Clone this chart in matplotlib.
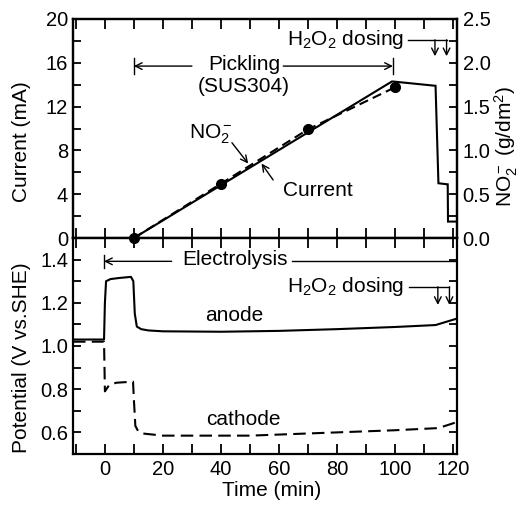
import matplotlib
matplotlib.use('Agg')
import matplotlib.pyplot as plt
from matplotlib.ticker import MultipleLocator, FormatStrFormatter

plt.rcParams['font.family'] = ['Liberation Sans', 'DejaVu Sans']
plt.rcParams['mathtext.fontset'] = 'custom'
plt.rcParams['mathtext.rm'] = 'Liberation Sans'
plt.rcParams['mathtext.it'] = 'Liberation Sans:italic'
plt.rcParams['mathtext.bf'] = 'Liberation Sans:bold'

# ---------------- data ----------------
current_time = [10, 99, 114, 115, 118.2, 118.3, 121.4]
current_mA = [0, 14.3, 13.9, 5.0, 4.9, 1.5, 1.5]

no2_time = [10, 40, 70, 100]
no2_conc = [0.0, 0.62, 1.24, 1.72]

anode_time = [-11, -0.3, 0, 0.4, 2, 5, 9, 9.8, 10.3, 11, 12.5, 15, 20, 40, 60, 80, 100, 114, 121.4]
anode_V = [1.03, 1.03, 1.20, 1.30, 1.31, 1.315, 1.32, 1.30, 1.15, 1.09, 1.078, 1.072, 1.068,
           1.066, 1.07, 1.078, 1.088, 1.097, 1.127]

cathode_time = [-11, -0.3, 0, 0.5, 1.5, 4, 9.7, 10, 10.5, 11.5, 13, 20, 50, 80, 100, 115, 121.4]
cathode_V = [1.02, 1.02, 0.79, 0.80, 0.82, 0.83, 0.835, 0.75, 0.63, 0.605, 0.595, 0.585,
             0.585, 0.60, 0.61, 0.62, 0.648]

x_ticks = [0, 20, 40, 60, 80, 100, 120]

# ---------------- figure ----------------
W, H = 520, 508
fig = plt.figure(figsize=(W / 100, H / 100), dpi=100)
L, R = 73, 457
T1, B1, B2 = 19, 238, 454
ax1 = fig.add_axes([L / W, 1 - B1 / H, (R - L) / W, (B1 - T1) / H])
ax2 = fig.add_axes([L / W, 1 - B2 / H, (R - L) / W, (B2 - B1) / H], sharex=ax1)
ax1r = ax1.twinx()

FS = 15
TFS = 14.5
LW = 1.5
XMIN, XMAX = -11, 121.4

# top panel
ax1.plot(current_time, current_mA, color='black', lw=LW, solid_joinstyle='miter')
ln, = ax1r.plot(no2_time, no2_conc, color='black', lw=LW)
ln.set_dashes([4.5, 2.5])
ax1r.plot(no2_time, no2_conc, 'o', color='black', ms=7, clip_on=False, zorder=5)

ax1.set_xlim(XMIN, XMAX)
ax1.set_ylim(0, 20)
ax1r.set_ylim(0, 2.5)
ax1.yaxis.set_major_locator(MultipleLocator(4))
ax1.yaxis.set_minor_locator(MultipleLocator(2))
ax1r.yaxis.set_major_locator(MultipleLocator(0.5))
ax1r.yaxis.set_minor_locator(MultipleLocator(0.25))
ax1r.yaxis.set_major_formatter(FormatStrFormatter('%.1f'))
ax1.set_xticks(x_ticks)
ax1.xaxis.set_minor_locator(MultipleLocator(10))

ax1.tick_params(axis='x', which='both', direction='in', top=True, bottom=True,
                labelbottom=False, length=7, width=1.3)
ax1.tick_params(axis='y', which='both', direction='in', left=True, right=False,
                labelsize=TFS, length=6, width=1.3, pad=3.5)
ax1r.tick_params(axis='y', which='both', direction='in', right=True, left=False,
                 labelsize=TFS, length=6, width=1.3, pad=4)

# bottom panel
ax2.plot(anode_time, anode_V, color='black', lw=LW)
ln2, = ax2.plot(cathode_time, cathode_V, color='black', lw=LW)
ln2.set_dashes([6, 3])
ax2.set_ylim(0.5, 1.5)
ax2.yaxis.set_major_locator(MultipleLocator(0.2))
ax2.yaxis.set_minor_locator(MultipleLocator(0.1))
ax2.yaxis.set_major_formatter(FormatStrFormatter('%.1f'))
ax2.tick_params(axis='x', which='both', direction='in', top=True, bottom=True,
                labelsize=TFS, length=7, width=1.3, pad=4)
ax2.tick_params(axis='y', which='both', direction='in', left=True, right=True,
                labelsize=TFS, length=6, width=1.3, pad=3.5)

for a in (ax1, ax2, ax1r):
    for s in a.spines.values():
        s.set_linewidth(1.6)

# axis labels (placed in figure pixels)
def fx(px):
    return px / W

def fy(py):
    return 1 - py / H

fig.text(fx(22), fy(142), 'Current (mA)', rotation=90, ha='center', va='center', fontsize=FS)
fig.text(fx(22), fy(358), 'Potential (V vs.SHE)', rotation=90, ha='center', va='center', fontsize=FS)
fig.text(fx(506), fy(146), 'NO$_2^-$ (g/dm$^2$)', rotation=90, ha='center', va='center', fontsize=FS)
fig.text(fx(272), fy(490), 'Time (min)', ha='center', va='center', fontsize=FS)

arrow = dict(arrowstyle='->', color='black', lw=1.0, shrinkA=0, shrinkB=0,
             mutation_scale=12)

# Pickling annotation
pick_y = 15.7
ax1.text(48, 15.8, 'Pickling', ha='center', va='center', fontsize=FS)
ax1.text(47.8, 13.8, '(SUS304)', ha='center', va='center', fontsize=FS)
ax1.annotate('', xy=(10, pick_y), xytext=(30, pick_y), arrowprops=arrow)
ax1.annotate('', xy=(99.3, pick_y), xytext=(61.5, pick_y), arrowprops=arrow)
ax1.plot([10, 10], [pick_y - 0.7, pick_y + 0.7], color='black', lw=1.0)
ax1.plot([99.3, 99.3], [pick_y - 0.7, pick_y + 0.7], color='black', lw=1.0)

# H2O2 dosing (top)
d_y = 18.1
ax1.text(83, d_y, 'H$_2$O$_2$ dosing', ha='center', va='center', fontsize=FS)
ax1.plot([104.5, 117.8], [d_y, d_y], color='black', lw=1.0)
for tx in (113.8, 117.8):
    ax1.annotate('', xy=(tx, 16.6), xytext=(tx, d_y), arrowprops=arrow)

# NO2- and Current labels
ax1.text(36.5, 9.5, 'NO$_2^-$', ha='center', va='center', fontsize=FS)
ax1.annotate('', xy=(49.4, 6.8), xytext=(43.8, 8.7), arrowprops=arrow)
ax1.text(73.3, 4.3, 'Current', ha='center', va='center', fontsize=FS)
ax1.annotate('', xy=(54.0, 6.8), xytext=(58.0, 5.3), arrowprops=arrow)

# Electrolysis annotation
e_y = 1.392
ax2.text(45, 1.40, 'Electrolysis', ha='center', va='center', fontsize=FS)
ax2.annotate('', xy=(-0.3, e_y), xytext=(23, e_y), arrowprops=arrow)
ax2.plot([-0.3, -0.3], [e_y - 0.03, e_y + 0.03], color='black', lw=1.0)
ax2.plot([64.5, XMAX], [e_y, e_y], color='black', lw=1.0)

# H2O2 dosing (bottom)
d2 = 1.274
ax2.text(83, d2 + 0.003, 'H$_2$O$_2$ dosing', ha='center', va='center', fontsize=FS)
ax2.plot([105, 118.8], [d2, d2], color='black', lw=1.0)
for tx in (114.8, 118.8):
    ax2.annotate('', xy=(tx, 1.19), xytext=(tx, d2), arrowprops=arrow)

ax2.text(44.5, 1.142, 'anode', ha='center', va='center', fontsize=FS)
ax2.text(47.9, 0.66, 'cathode', ha='center', va='center', fontsize=FS)

fig.savefig('out.png', dpi=100)
